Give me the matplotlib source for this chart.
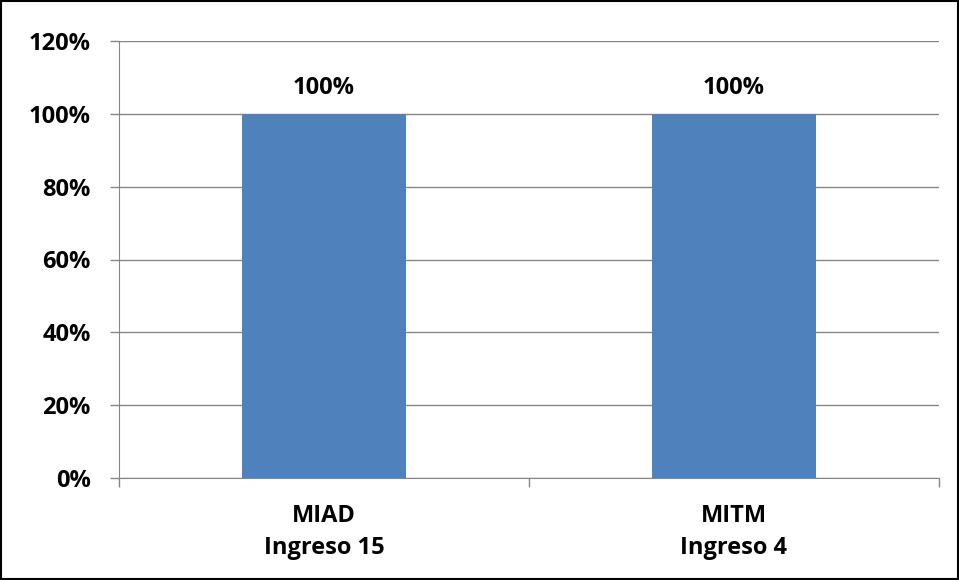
import matplotlib.pyplot as plt
from matplotlib.patches import Rectangle
from matplotlib.ticker import FuncFormatter

# data
categories = ['MIAD\nIngreso 15', 'MITM\nIngreso 4']
values = [1.0, 1.0]
labels = ['100%', '100%']

plt.rcParams['font.family'] = ['Open Sans', 'DejaVu Sans']
plt.rcParams['font.weight'] = 'bold'

fig = plt.figure(figsize=(9.59, 5.80), dpi=100)
ax = fig.add_axes([119/959, 1 - 478/580, 820/959, 437/580])

x = range(len(categories))
bars = ax.bar(x, values, width=0.4, color='#4F81BD', zorder=3)
for xi, v, lab in zip(x, values, labels):
    ax.annotate(lab, (xi, v), xytext=(0, 14.5), textcoords='offset points',
                ha='center', va='baseline', fontsize=17, fontweight='bold')

ax.set_xlim(-0.5, 1.5)
ax.set_ylim(0, 1.2)
ax.set_yticks([0, 0.2, 0.4, 0.6, 0.8, 1.0, 1.2])
ax.yaxis.set_major_formatter(FuncFormatter(lambda v, p: f'{v*100:.0f}%'))
ax.grid(axis='y', color='#868686', linewidth=1, zorder=0)

ax.set_xticks([-0.5, 0.5, 1.5])
ax.set_xticklabels([])
ax.set_xticks([0, 1], minor=True)
ax.set_xticklabels(categories, minor=True, fontsize=17, fontweight='bold', linespacing=1.45)
ax.tick_params(axis='x', which='minor', length=0, pad=19)
ax.tick_params(axis='x', which='major', length=6.5, color='#868686', width=1)
ax.tick_params(axis='y', length=6.5, color='#868686', width=1, labelsize=17, pad=14)
for t in ax.get_yticklabels():
    t.set_fontweight('bold')

for s in ['top', 'right']:
    ax.spines[s].set_visible(False)
for s in ['left', 'bottom']:
    ax.spines[s].set_color('#868686')

fig.patches.append(Rectangle((0.001, 0.001), 0.998, 0.997, transform=fig.transFigure,
                             fill=False, edgecolor='black', linewidth=1.5))

fig.savefig('out.png', dpi=100)
